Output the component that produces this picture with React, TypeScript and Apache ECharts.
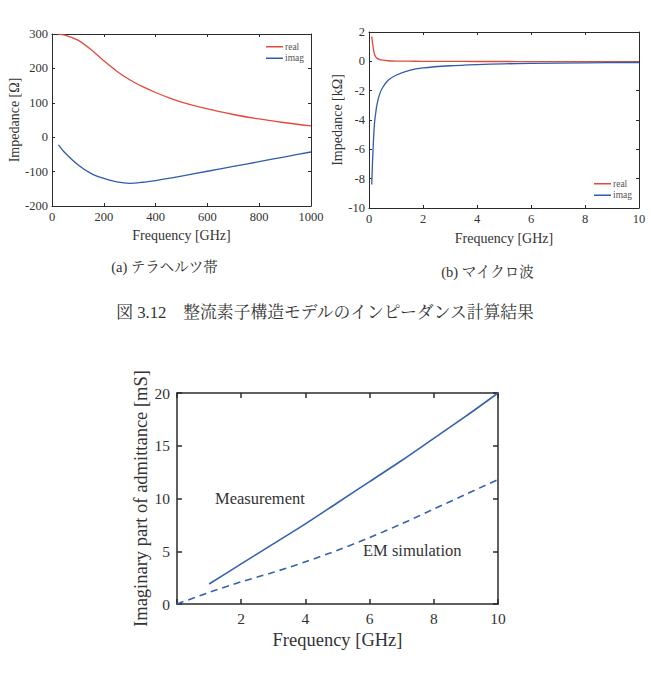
import React, { useEffect, useRef } from "react";
import * as echarts from "echarts";

// Chart (a): terahertz band
const thzFreq = [25, 50, 100, 150, 200, 250, 300, 350, 400, 450, 500, 600, 700, 800, 900, 1000];
const thzReal = [299, 297, 282, 255, 222, 192, 167, 147, 130, 115, 102, 82, 66, 53, 42, 33];
const thzImag = [-22, -45, -80, -105, -120, -130, -134, -131, -126, -120, -113, -99, -85, -71, -57, -43];

// Chart (b): microwave
const mwFreq = [0.1, 0.15, 0.2, 0.25, 0.3, 0.4, 0.5, 0.7, 1, 1.5, 2, 3, 4, 5, 6, 8, 10];
const mwReal = [1.7, 1.0, 0.5, 0.3, 0.2, 0.12, 0.08, 0.04, 0.02, 0.01, 0.0, 0.0, -0.01, -0.01, -0.02, -0.02, -0.03];
const mwImag = [-8.4, -6.0, -4.3, -3.5, -2.9, -2.2, -1.8, -1.3, -0.95, -0.62, -0.45, -0.3, -0.22, -0.17, -0.14, -0.1, -0.08];

// Chart (c): admittance
const measFreq = [1, 2, 3, 4, 5, 6, 7, 8, 9, 10];
const measVal = [1.9, 3.8, 5.7, 7.6, 9.6, 11.6, 13.6, 15.7, 17.8, 20];
const simFreq = [0, 1, 2, 3, 4, 5, 6, 7, 8, 9, 10];
const simVal = [0, 1.1, 2.1, 3.0, 4.0, 5.1, 6.3, 7.6, 9.0, 10.4, 11.8];

const legendNames = ["real", "imag"];
const captionA = "(a) テラヘルツ帯";
const captionB = "(b) マイクロ波";
const mainCaption = "図 3.12\u3000整流素子構造モデルのインピーダンス計算結果";
const labelMeas = "Measurement";
const labelSim = "EM simulation";

const SERIF = "'Liberation Serif', 'Noto Serif CJK JP', 'Noto Sans CJK JP', serif";
const RED = "#e4493c";
const BLUE = "#2f5dab";
const AXIS = "#2b2b2b";
const TXT = "#333333";

const zip = (xs: number[], ys: number[]) => xs.map((x, i) => [x, ys[i]]);

export default function App() {
  const ref = useRef<HTMLDivElement>(null);
  useEffect(() => {
    if (!ref.current) return;
    const chart = echarts.init(ref.current, undefined, { renderer: "svg" });

    const mkX = (grid: number, min: number, max: number, interval: number, opts: any) => [
      {
        type: "value", gridIndex: grid, min, max, interval, position: "bottom",
        splitLine: { show: false },
        axisLine: { show: true, onZero: false, lineStyle: { color: AXIS, width: opts.lw } },
        axisTick: { show: true, inside: true, length: opts.tick, lineStyle: { color: AXIS, width: opts.lw } },
        axisLabel: {
          show: true, color: TXT, fontFamily: SERIF, fontSize: opts.fs, margin: opts.margin,
          showMinLabel: true, showMaxLabel: true,
          formatter: opts.fmt || ((v: number) => String(v)),
        },
        name: "Frequency [GHz]", nameLocation: "middle", nameGap: opts.nameGap,
        nameTextStyle: { color: TXT, fontFamily: SERIF, fontSize: opts.nfs },
      },
      {
        type: "value", gridIndex: grid, min, max, interval, position: "top",
        splitLine: { show: false },
        axisLine: { show: true, onZero: false, lineStyle: { color: AXIS, width: opts.lw } },
        axisTick: { show: true, inside: true, length: opts.tick, lineStyle: { color: AXIS, width: opts.lw } },
        axisLabel: { show: false },
      },
    ];
    const mkY = (grid: number, min: number, max: number, interval: number, name: string, opts: any) => [
      {
        type: "value", gridIndex: grid, min, max, interval, position: "left",
        splitLine: { show: false },
        axisLine: { show: true, onZero: false, lineStyle: { color: AXIS, width: opts.lw } },
        axisTick: { show: true, inside: true, length: opts.tick, lineStyle: { color: AXIS, width: opts.lw } },
        axisLabel: {
          show: true, color: TXT, fontFamily: SERIF, fontSize: opts.fs, margin: opts.margin,
          showMinLabel: true, showMaxLabel: true,
        },
        name, nameLocation: "middle", nameGap: opts.nameGap,
        nameTextStyle: { color: TXT, fontFamily: SERIF, fontSize: opts.nfs },
      },
      {
        type: "value", gridIndex: grid, min, max, interval, position: "right",
        splitLine: { show: false },
        axisLine: { show: true, onZero: false, lineStyle: { color: AXIS, width: opts.lw } },
        axisTick: { show: true, inside: true, length: opts.tick, lineStyle: { color: AXIS, width: opts.lw } },
        axisLabel: { show: false },
      },
    ];

    const small = { lw: 1, tick: 3, fs: 12.5, nfs: 14, margin: 5 };
    const big = { lw: 1.5, tick: 5, fs: 15.5, nfs: 18.5, margin: 7 };

    const line = (name: string, data: number[][], xi: number, yi: number, color: string, width: number, type: any = "solid") => ({
      type: "line", name, data, xAxisIndex: xi, yAxisIndex: yi,
      showSymbol: false, symbol: "none", smooth: 0.3,
      lineStyle: { color, width, type }, itemStyle: { color },
    });

    const legendCommon = {
      orient: "vertical", icon: "rect", itemWidth: 17, itemHeight: 1.5, itemGap: 2,
      padding: 0,
      textStyle: { color: "#555", fontFamily: SERIF, fontSize: 9.5, padding: [0, 0, 0, -3] },
      data: legendNames,
      selectedMode: false,
    };

    chart.setOption({
      animation: false,
      backgroundColor: "#ffffff",
      grid: [
        { left: 52, top: 34, width: 259, height: 172 },
        { left: 369, top: 32, width: 270, height: 176 },
        { left: 177, top: 393, width: 321, height: 211 },
      ],
      xAxis: [
        ...mkX(0, 0, 1000, 200, { ...small, nameGap: 22 }),
        ...mkX(1, 0, 10, 2, { ...small, nameGap: 23 }),
        ...mkX(2, 0, 10, 2, { ...big, nameGap: 27, fmt: (v: number) => (v === 0 ? "" : String(v)) }),
      ],
      yAxis: [
        ...mkY(0, -200, 300, 100, "Impedance [Ω]", { ...small, margin: 4, nameGap: 31 }),
        ...mkY(1, -10, 2, 2, "Impedance [kΩ]", { ...small, margin: 4, nameGap: 24 }),
        ...mkY(2, 0, 20, 5, "Imaginary part of admittance [mS]", { ...big, margin: 7, nameGap: 25 }),
      ],
      legend: [
        { ...legendCommon, left: 266, top: 42 },
        { ...legendCommon, left: 594, top: 179 },
      ],
      series: [
        line("real", zip(thzFreq, thzReal), 0, 0, RED, 1.3),
        line("imag", zip(thzFreq, thzImag), 0, 0, BLUE, 1.3),
        line("real", zip(mwFreq, mwReal), 2, 2, RED, 1.3),
        line("imag", zip(mwFreq, mwImag), 2, 2, BLUE, 1.3),
        line("Measurement", zip(measFreq, measVal), 4, 4, "#3562ad", 1.6),
        line("EM simulation", zip(simFreq, simVal), 4, 4, "#3562ad", 1.6, [7, 5]),
      ],
      graphic: [
        { type: "text", x: 164.5, y: 267, style: { text: captionA, fill: TXT, font: `14.5px ${SERIF}`, textAlign: "center", textVerticalAlign: "middle" } },
        { type: "text", x: 487.5, y: 272, style: { text: captionB, fill: TXT, font: `14.5px ${SERIF}`, textAlign: "center", textVerticalAlign: "middle" } },
        { type: "text", x: 325, y: 312, style: { text: mainCaption, fill: TXT, font: `16.8px ${SERIF}`, textAlign: "center", textVerticalAlign: "middle" } },
        { type: "text", x: 215, y: 498, style: { text: labelMeas, fill: TXT, font: `16.5px ${SERIF}`, textAlign: "left", textVerticalAlign: "middle" } },
        { type: "text", x: 363, y: 550, style: { text: labelSim, fill: TXT, font: `16.5px ${SERIF}`, textAlign: "left", textVerticalAlign: "middle" } },
      ],
    });
    return () => chart.dispose();
  }, []);
  return (
    <div
      ref={ref}
      style={{ position: "fixed", left: 0, top: 0, width: 651, height: 678, background: "#fff" }}
    />
  );
}
